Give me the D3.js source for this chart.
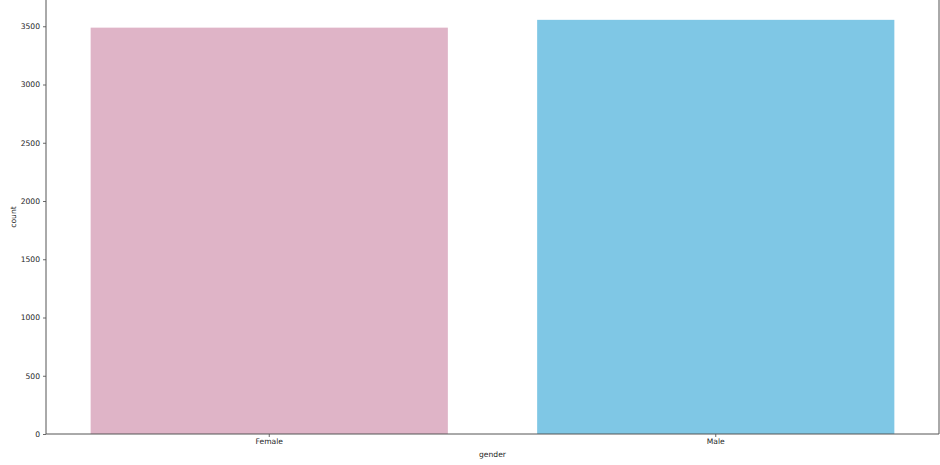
<!DOCTYPE html>
<html><head><meta charset="utf-8">
<script src="https://cdn.jsdelivr.net/npm/d3@7"></script>
<style>body{margin:0;background:#fff}svg text{font-family:"DejaVu Sans",sans-serif;fill:#262626}</style>
</head><body><svg id="c" width="940" height="465"></svg>
<script>
const categories = ["Female", "Male"];
const counts = [3488, 3555];
const colors = ["#dfb4c7", "#7fc7e5"];
const yTicks = [0, 500, 1000, 1500, 2000, 2500, 3000, 3500];

const svg = d3.select("#c");
const left = 46, right = 939, bottom = 434;
const yMax = d3.max(counts) * 1.05;
const y = d3.scaleLinear().domain([0, yMax]).range([bottom, bottom - 58.25 * yMax / 500]);
const x = d3.scaleBand().domain(categories).range([left, right]).paddingInner(0.2).paddingOuter(0.1);

svg.selectAll("rect.bar").data(categories).join("rect")
  .attr("class", "bar")
  .attr("x", d => x(d))
  .attr("width", x.bandwidth())
  .attr("y", (d, i) => y(counts[i]))
  .attr("height", (d, i) => bottom - y(counts[i]))
  .attr("fill", (d, i) => colors[i]);

const yAxis = svg.append("g").attr("transform", `translate(${left},0)`)
  .call(d3.axisLeft(y).tickValues(yTicks).tickSize(3).tickPadding(3).tickFormat(d3.format("d")));
const xAxis = svg.append("g").attr("transform", `translate(0,${bottom})`)
  .call(d3.axisBottom(x).tickSize(3).tickPadding(2));
[yAxis, xAxis].forEach(g => {
  g.select(".domain").remove();
  g.selectAll("line").attr("stroke", "#444").attr("stroke-width", 0.8);
  g.selectAll("text").style("font-size", "7.6px").attr("fill", "#262626");
});

// spines
svg.append("line").attr("x1", left).attr("x2", left).attr("y1", 0).attr("y2", bottom).attr("stroke", "#555").attr("stroke-width", 1);
svg.append("line").attr("x1", right).attr("x2", right).attr("y1", 0).attr("y2", bottom).attr("stroke", "#555").attr("stroke-width", 1);
svg.append("line").attr("x1", left).attr("x2", right).attr("y1", bottom).attr("y2", bottom).attr("stroke", "#555").attr("stroke-width", 1);

svg.append("text").attr("x", (left + right) / 2).attr("y", 457).attr("text-anchor", "middle")
  .style("font-size", "7.6px").text("gender");
svg.append("text").attr("transform", `translate(16,${bottom / 2}) rotate(-90)`).attr("text-anchor", "middle")
  .style("font-size", "7.6px").text("count");
</script></body></html>
